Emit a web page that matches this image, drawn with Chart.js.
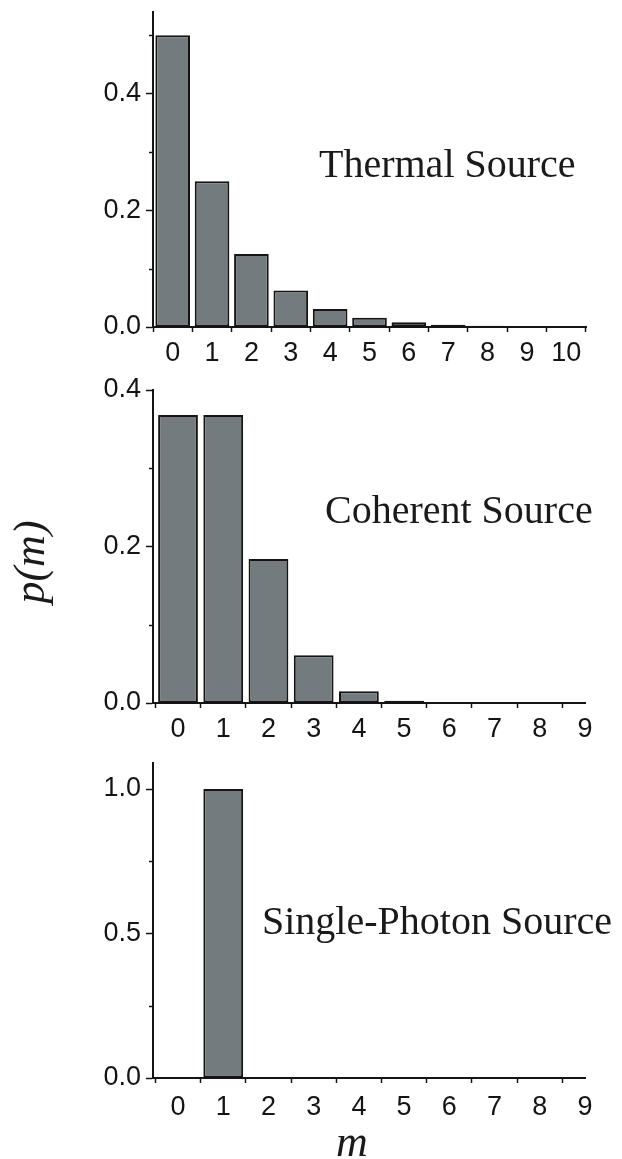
<!DOCTYPE html>
<html>
<head>
<meta charset="utf-8">
<script src="https://cdn.jsdelivr.net/npm/chart.js@4.4.0/dist/chart.umd.min.js"></script>
<style>
  html, body { margin: 0; padding: 0; background: #ffffff; }
  body { width: 622px; height: 1159px; position: relative; overflow: hidden; }
  canvas { position: absolute; left: 0; }
  .lbl { position: absolute; font-family: "Liberation Serif", "Times New Roman", serif; color: #1a1a1a; white-space: nowrap; line-height: 1; }
  .ital { font-style: italic; }
</style>
</head>
<body>
<canvas id="c1" width="622" height="372" style="top:0px"></canvas>
<canvas id="c2" width="622" height="373" style="top:372px"></canvas>
<canvas id="c3" width="622" height="414" style="top:745px"></canvas>

<div class="lbl" style="left:319px;top:144px;font-size:40px;">Thermal Source</div>
<div class="lbl" style="left:325px;top:490px;font-size:40px;">Coherent Source</div>
<div class="lbl" style="left:262px;top:901px;font-size:40px;">Single-Photon Source</div>
<div class="lbl ital" style="left:-30px;top:540px;width:120px;height:44px;font-size:44px;line-height:44px;text-align:center;transform:rotate(-90deg);">p(m)</div>
<div class="lbl ital" style="left:336px;top:1120px;font-size:44px;line-height:44px;">m</div>

<script>
// ---- data ----
const thermalCategories = ['0', '1', '2', '3', '4', '5', '6', '7', '8', '9', '10'];
const thermalValues = [0.5, 0.25, 0.125, 0.0625, 0.031, 0.016, 0.008, 0.004, 0.002, 0.001, 0.0005];

const photonNumbers = [0, 1, 2, 3, 4, 5, 6, 7, 8, 9];
const coherentValues = [0.368, 0.368, 0.184, 0.061, 0.015, 0.003, 0.0005, 0.0001, 0, 0];
const singlePhotonValues = [0, 1, 0, 0, 0, 0, 0, 0, 0, 0];

const thermalMinorTicks = [0.1, 0.3, 0.5];
const coherentMinorTicks = [0.1, 0.3];
const singleMinorTicks = [0.25, 0.75];

// ---- styling ----
const BAR_FILL = '#747b7e';
const INK = '#141414';
const TICK_FONT = { family: '"Liberation Sans", Arial, sans-serif', size: 27 };

const minorTickPlugin = {
  id: 'minorTicks',
  afterDraw(chart, args, opts) {
    const ys = chart.scales.y;
    const ctx = chart.ctx;
    ctx.save();
    ctx.strokeStyle = INK;
    ctx.lineWidth = 1.5;
    (opts.values || []).forEach(v => {
      const py = Math.round(ys.getPixelForValue(v)) + 0.5;
      ctx.beginPath();
      ctx.moveTo(ys.right - 4, py);
      ctx.lineTo(ys.right, py);
      ctx.stroke();
    });
    ctx.restore();
  }
};

function yScale(max, step) {
  return {
    min: 0, max: max,
    afterFit: s => { s.width = 153; s.paddingTop = 0; s.paddingBottom = 0; },
    ticks: { stepSize: step, includeBounds: false, font: TICK_FONT, color: INK, padding: 5,
             callback: v => Number(v).toFixed(1) },
    grid: { drawOnChartArea: false, drawTicks: true, tickLength: 7, tickWidth: 1.5, tickColor: INK },
    border: { display: true, color: INK, width: 2, z: 1 }
  };
}

function xGrid() {
  return { drawOnChartArea: false, drawTicks: true, tickLength: 5, tickWidth: 1.5, tickColor: INK };
}

function baseOptions(pad, xScale, yS, minor) {
  return {
    responsive: false,
    animation: false,
    devicePixelRatio: 1,
    layout: { padding: pad },
    plugins: { legend: { display: false }, tooltip: { enabled: false }, minorTicks: { values: minor } },
    scales: { x: xScale, y: yS }
  };
}

function barDataset(data) {
  return {
    data: data,
    backgroundColor: BAR_FILL,
    borderColor: INK,
    borderWidth: 2,
    borderSkipped: false,
    barPercentage: 0.88,
    categoryPercentage: 1.0
  };
}

// ---- panel 1: thermal ----
new Chart(document.getElementById('c1'), {
  type: 'bar',
  data: { labels: thermalCategories, datasets: [barDataset(thermalValues)] },
  options: baseOptions(
    { top: 12, right: 36, left: 0, bottom: 0 },
    {
      type: 'category', offset: true,
      afterFit: s => { s.height = 45; s.paddingLeft = 0; s.paddingRight = 0; },
      ticks: { font: TICK_FONT, color: INK, padding: 5, maxRotation: 0, autoSkip: false },
      grid: Object.assign(xGrid(), { offset: true }),
      border: { display: true, color: INK, width: 2, z: 1 }
    },
    yScale(0.54, 0.2),
    thermalMinorTicks
  ),
  plugins: [minorTickPlugin]
});

// ---- panels 2 & 3: linear photon-number axis ----
function linearX(h, pad) {
  return {
    type: 'linear', min: -0.553, max: 9, offset: false,
    afterFit: s => { s.height = h; s.paddingLeft = 0; s.paddingRight = 0; },
    ticks: { stepSize: 1, includeBounds: false, font: TICK_FONT, color: INK, padding: pad, maxRotation: 0, autoSkip: false },
    grid: xGrid(),
    border: { display: true, color: INK, width: 2, z: 1 }
  };
}

new Chart(document.getElementById('c2'), {
  type: 'bar',
  data: { datasets: [barDataset(photonNumbers.map((m, i) => ({ x: m, y: coherentValues[i] })))] },
  options: baseOptions(
    { top: 18, right: 37, left: 0, bottom: 0 },
    linearX(42, 5),
    yScale(0.4, 0.2),
    coherentMinorTicks
  ),
  plugins: [minorTickPlugin]
});

new Chart(document.getElementById('c3'), {
  type: 'bar',
  data: { datasets: [barDataset(photonNumbers.map((m, i) => ({ x: m, y: singlePhotonValues[i] })))] },
  options: baseOptions(
    { top: 18, right: 37, left: 0, bottom: 0 },
    linearX(81, 8),
    yScale(1.09, 0.5),
    singleMinorTicks
  ),
  plugins: [minorTickPlugin]
});
</script>
</body>
</html>
